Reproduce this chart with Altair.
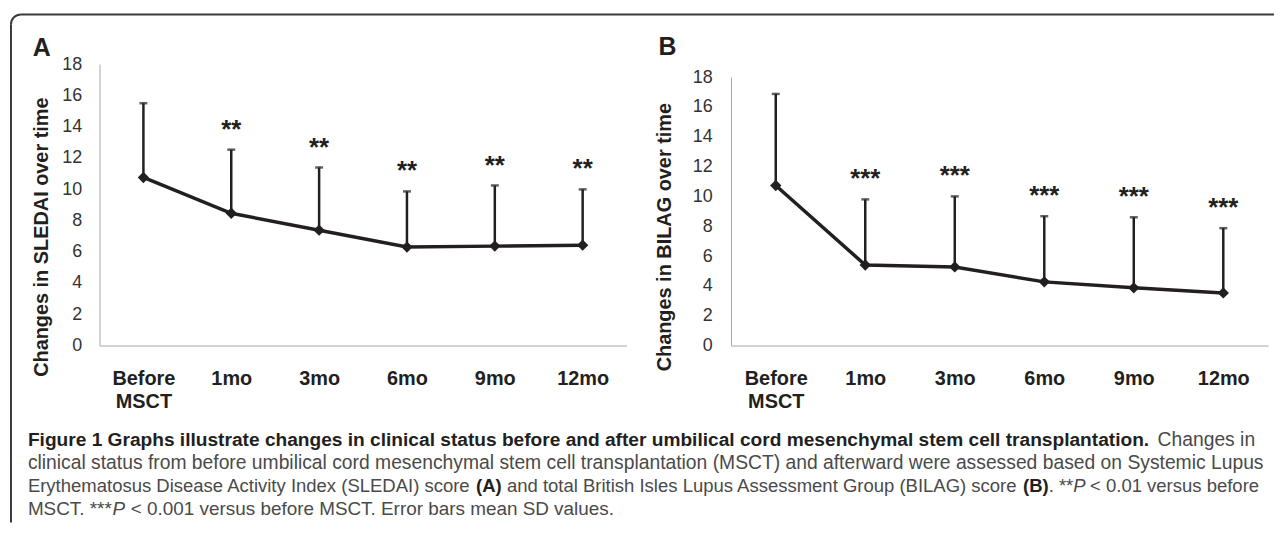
import altair as alt
import pandas as pd

categories = ["Before MSCT", "1mo", "3mo", "6mo", "9mo", "12mo"]
order_idx = [0, 1, 2, 3, 4, 5]
sledai_mean = [10.75, 8.46, 7.38, 6.30, 6.36, 6.42]
sledai_sd_top = [15.50, 12.53, 11.39, 9.86, 10.24, 9.99]
sledai_sig = ["", "**", "**", "**", "**", "**"]
bilag_mean = [10.73, 5.40, 5.27, 4.27, 3.87, 3.53]
bilag_sd_top = [16.87, 9.80, 10.00, 8.67, 8.60, 7.87]
bilag_sig = ["", "***", "***", "***", "***", "***"]
y_ticks = [0, 2, 4, 6, 8, 10, 12, 14, 16, 18]

FONT = "Liberation Sans"
CAP_FONT = "Liberation Sans"
DARK = "#231f20"
GREY_AXIS = "#a6a6a6"
CAP_COLOR = "#4a4a4a"

one = pd.DataFrame({"k": [0]})


def txt(text, x, y, size, weight="normal", align="left", color=DARK, style="normal",
        font=CAP_FONT, baseline="alphabetic"):
    return alt.Chart(one).mark_text(
        font=font, fontSize=size, fontWeight=weight, fontStyle=style,
        align=align, baseline=baseline, color=color
    ).encode(x=alt.value(x), y=alt.value(y), text=alt.value(text))


def panel(mean, top, sig, title, letter, w, y_range, label_pad, title_x, letter_xy, extra=None):
    df = pd.DataFrame({"cat": categories, "idx": order_idx, "mean": mean, "top": top, "sig": sig})
    xaxis = alt.Axis(
        title=None, labelAngle=0,
        labelExpr="datum.value == 'Before MSCT' ? ['Before', 'MSCT'] : datum.label",
        labelFont=FONT, labelFontSize=20, labelFontWeight="bold", labelColor=DARK,
        labelPadding=23, labelLineHeight=23, ticks=False, grid=False,
        domainColor=GREY_AXIS, domainWidth=1,
    )
    x = alt.X("cat:N", sort=categories, scale=alt.Scale(type="point", padding=0.5), axis=xaxis)
    yscale = alt.Scale(domain=[0, 18], nice=False, range=y_range)
    yaxis = alt.Axis(
        values=y_ticks, title=title, titleFont=FONT, titleFontSize=20, titleFontWeight="bold",
        titleColor=DARK, titleAngle=270, titleAlign="center", titleBaseline="middle",
        titleX=title_x, titleY=173.5,
        labelFont=FONT, labelFontSize=18, labelColor="#333333", labelPadding=label_pad,
        ticks=False, grid=False, domainColor=GREY_AXIS, domainWidth=1,
    )
    y_mean = alt.Y("mean:Q", scale=yscale, axis=yaxis)
    y_top = alt.Y("top:Q", scale=yscale, axis=yaxis)
    base = alt.Chart(df)
    err = base.mark_rule(color=DARK, strokeWidth=2.5).encode(x=x, y=y_mean, y2="top:Q")
    cap = base.mark_tick(color=DARK, thickness=2.5, size=8, orient="horizontal").encode(x=x, y=y_top)
    line = base.mark_line(color=DARK, strokeWidth=3.5).encode(x=x, y=y_mean, order="idx:Q")
    pts = base.mark_point(shape="diamond", filled=True, size=130, color=DARK, opacity=1).encode(x=x, y=y_mean)
    stars = base.mark_text(font=FONT, fontSize=26, fontWeight="bold", color=DARK,
                           baseline="alphabetic", dy=-12).encode(x=x, y=y_top, text="sig:N")
    lab = txt(letter, letter_xy[0], letter_xy[1], 25, weight="bold", align="center",
              font=FONT, baseline="middle")
    layers = [err, cap, line, pts, stars, lab]
    if extra:
        layers += extra
    return alt.layer(*layers).properties(width=w, height=283)


# frame and caption, drawn relative to panel A's plot origin
R = 10
frame = [
    alt.Chart(one).mark_rule(strokeOpacity=0).encode(x=alt.value(-92), x2=alt.value(-91), y=alt.value(-55)),
    alt.Chart(one).mark_rule(color="#3a3a3a", strokeWidth=2).encode(
        x=alt.value(-89 + R), x2=alt.value(1181), y=alt.value(-50)),
    alt.Chart(one).mark_rule(color="#3a3a3a", strokeWidth=2).encode(
        x=alt.value(-89), y=alt.value(-50 + R), y2=alt.value(461)),
    alt.Chart(one).mark_arc(theta=4.712389, theta2=6.283185, radius=R + 1, radius2=R - 1,
                            color="#3a3a3a").encode(x=alt.value(-89 + R), y=alt.value(-50 + R)),
]
S1B, S1, S3, S4 = 19.25, 19.4, 18.6, 19.0
caption = [
    txt("Figure 1 Graphs illustrate changes in clinical status before and after umbilical cord mesenchymal stem cell transplantation.",
        -72, 384, S1B, weight="bold", color=DARK),
    txt("Changes in", 1162, 384, S1, align="right", color=CAP_COLOR),
    txt("clinical status from before umbilical cord mesenchymal stem cell transplantation (MSCT) and afterward were assessed based on Systemic Lupus",
        -72, 407, S1, color=CAP_COLOR),
    txt("Erythematosus Disease Activity Index (SLEDAI) score", -72, 430, S3, color=CAP_COLOR),
    txt("(A)", 378.7, 430, S3, weight="bold", color=DARK),
    txt("and total British Isles Lupus Assessment Group (BILAG) score", 409.7, 430, S3, color=CAP_COLOR),
    txt("(B)", 928.6, 430, S3, weight="bold", color=DARK),
    txt(". **", 954.4, 430, S3, color=CAP_COLOR),
    txt("P", 979.2, 430, S3, style="italic", color=CAP_COLOR),
    txt("< 0.01 versus before", 1166, 430, S3, align="right", color=CAP_COLOR),
    txt("MSCT. ***", -72, 453, S4, color=CAP_COLOR),
    txt("P", 13.0, 453, S4, style="italic", color=CAP_COLOR),
    txt("< 0.001 versus before MSCT. Error bars mean SD values.", 31.5, 453, S4, color=CAP_COLOR),
]

chart_a = panel(sledai_mean, sledai_sd_top, sledai_sig, "Changes in SLEDAI over time", "A",
                530, [283, 0], 18, -58, (-58, -16), extra=frame + caption)
chart_b = panel(bilag_mean, bilag_sd_top, bilag_sig, "Changes in BILAG over time", "B",
                540, [283, 13], 19, -67, (-64, -17))

chart = alt.hconcat(chart_a, chart_b, spacing=105, bounds="flush").properties(
    padding=0, background="white"
).configure_view(stroke=None)

chart.save("out.html", embed_options={"renderer": "svg", "actions": False})
